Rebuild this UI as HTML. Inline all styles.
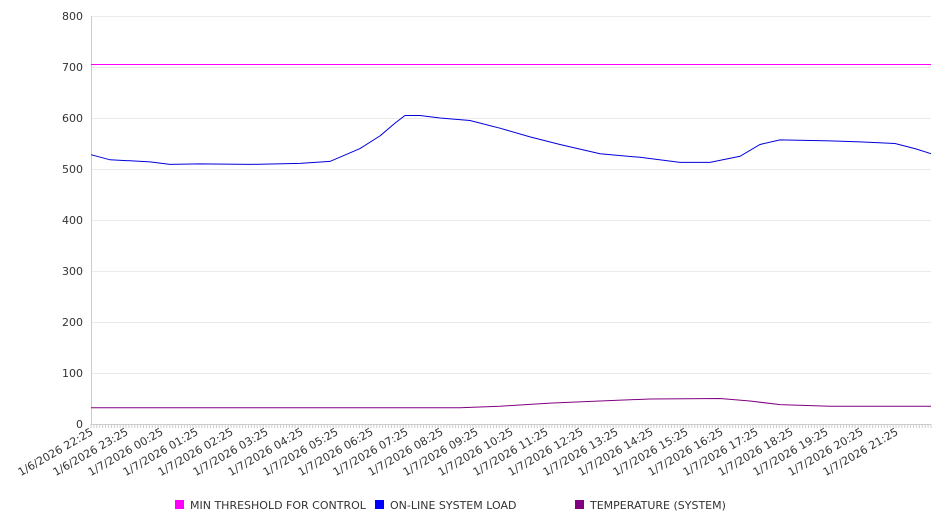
<!DOCTYPE html>
<html><head><style>body{margin:0;background:#fff}svg{font-family:"DejaVu Sans","Liberation Sans",sans-serif}</style></head><body>
<svg width="946" height="526" xmlns="http://www.w3.org/2000/svg">
<g stroke="#ebebeb" stroke-width="1">
<line x1="91" x2="931" y1="16.5" y2="16.5"/><line x1="91" x2="931" y1="67.5" y2="67.5"/><line x1="91" x2="931" y1="118.5" y2="118.5"/><line x1="91" x2="931" y1="169.5" y2="169.5"/><line x1="91" x2="931" y1="220.5" y2="220.5"/><line x1="91" x2="931" y1="271.5" y2="271.5"/><line x1="91" x2="931" y1="322.5" y2="322.5"/><line x1="91" x2="931" y1="373.5" y2="373.5"/>
</g>
<line x1="91.5" x2="91.5" y1="16" y2="424" stroke="#ccc"/>
<line x1="91" x2="931" y1="424.5" y2="424.5" stroke="#ccc"/>
<g fill="#333" font-size="11" text-anchor="end">
<text x="83" y="20">800</text><text x="83" y="71">700</text><text x="83" y="122">600</text><text x="83" y="173">500</text><text x="83" y="224">400</text><text x="83" y="275">300</text><text x="83" y="326">200</text><text x="83" y="377">100</text><text x="83" y="428">0</text>
</g>
<path id="ticks" stroke="#ccc" d="" />
<g id="tk" stroke="#ccc"></g>
<polyline fill="none" stroke="#ff00ff" points="91,64.5 931,64.5"/>
<polyline fill="none" stroke="#0000dd" points="91,154.7 110,159.8 130,160.8 150,161.9 170,164.4 200,163.9 250,164.4 300,163.4 330,161.4 360,148.6 380,135.9 395,123.1 405,115.5 420,115.5 440,118 470,120.5 500,128.2 530,136.9 560,144.5 600,153.7 640,157.3 680,162.4 710,162.4 740,156.3 760,144.5 780,139.9 830,140.9 860,141.9 895,143.5 915,148.6 931,153.7"/>
<polyline fill="none" stroke="#800080" points="91,407.7 400,407.7 460,407.7 500,406.2 550,403.1 600,401 650,399 720,398.5 750,401 780,404.6 830,406.2 931,406.2"/>
<g id="lab" fill="#333" font-size="11" text-anchor="end"></g>
<g font-size="11" fill="#333">
<rect x="175" y="500" width="9" height="9" fill="#ff00ff"/><text x="190" y="509">MIN THRESHOLD FOR CONTROL</text>
<rect x="375" y="500" width="9" height="9" fill="#0000ff"/><text x="390" y="509">ON-LINE SYSTEM LOAD</text>
<rect x="575" y="500" width="9" height="9" fill="#800080"/><text x="590" y="509">TEMPERATURE (SYSTEM)</text>
</g>
<script>
var ns="http://www.w3.org/2000/svg",tk=document.getElementById("tk"),lab=document.getElementById("lab");
for(var i=0;i<=288;i++){var x=91+i*840/288;var l=document.createElementNS(ns,"line");l.setAttribute("x1",x);l.setAttribute("x2",x);l.setAttribute("y1",424);l.setAttribute("y2",428);tk.appendChild(l);}
var hrs=["22:25","23:25","00:25","01:25","02:25","03:25","04:25","05:25","06:25","07:25","08:25","09:25","10:25","11:25","12:25","13:25","14:25","15:25","16:25","17:25","18:25","19:25","20:25","21:25"];
for(var i=0;i<24;i++){var x=94+i*35,y=434;var t=document.createElementNS(ns,"text");t.setAttribute("x",x);t.setAttribute("y",y);t.setAttribute("transform","rotate(-30 "+x+" "+y+")");t.textContent=(i<2?"1/6/2026 ":"1/7/2026 ")+hrs[i];lab.appendChild(t);}
</script>
</svg>
</body></html>
